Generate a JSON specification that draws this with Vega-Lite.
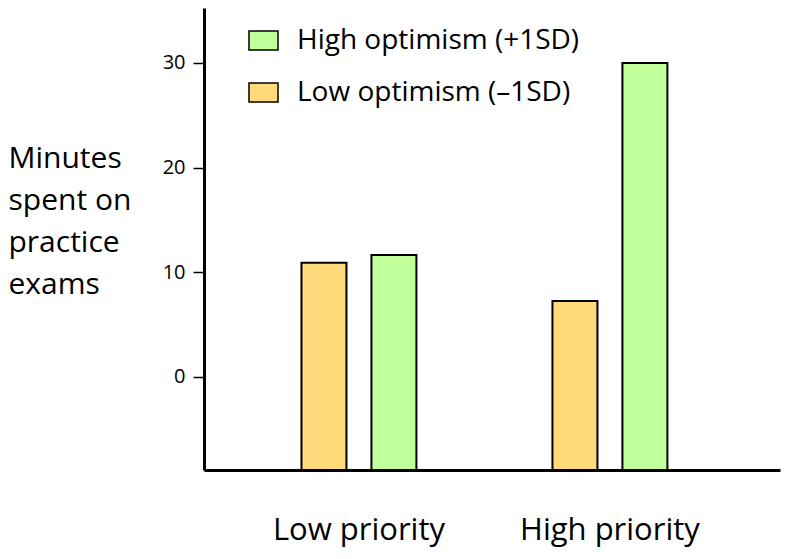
{
  "$schema": "https://vega.github.io/schema/vega-lite/v6.json",
  "width": 576,
  "height": 462,
  "autosize": {"type": "none"},
  "padding": {"left": 204, "top": 8, "right": 20, "bottom": 89},
  "background": "white",
  "config": {
    "font": "Open Sans",
    "view": {"stroke": null},
    "axis": {"grid": false, "domainColor": "black", "tickColor": "black", "labelColor": "black", "titleColor": "black"}
  },
  "data": {
    "values": [
      {"priority": "Low priority", "optimism": "Low optimism (–1SD)", "minutes": 10.9},
      {"priority": "Low priority", "optimism": "High optimism (+1SD)", "minutes": 11.65},
      {"priority": "High priority", "optimism": "Low optimism (–1SD)", "minutes": 7.26},
      {"priority": "High priority", "optimism": "High optimism (+1SD)", "minutes": 30.0}
    ]
  },
  "mark": {"type": "bar", "stroke": "black", "strokeWidth": 2, "opacity": 1},
  "encoding": {
    "x": {
      "field": "priority",
      "type": "nominal",
      "sort": ["Low priority", "High priority"],
      "scale": {"paddingInner": 0.542, "paddingOuter": 0.4185, "align": 0.464},
      "axis": {
        "title": null,
        "labelAngle": 0,
        "ticks": false,
        "domainWidth": 3,
        "labelFontSize": 31,
        "labelPadding": 45,
        "labelBaseline": "top"
      }
    },
    "xOffset": {
      "field": "optimism",
      "type": "nominal",
      "scale": {"domain": ["Low optimism (–1SD)", "High optimism (+1SD)"], "paddingInner": 0.357, "paddingOuter": 0}
    },
    "y": {
      "field": "minutes",
      "type": "quantitative",
      "scale": {"domain": [-8.89, 35.25], "nice": false, "zero": false},
      "axis": {
        "values": [0, 10, 20, 30],
        "domainWidth": 3,
        "tickSize": 11,
        "tickWidth": 1.5,
        "labelFontSize": 20,
        "labelPadding": 8,
        "title": ["Minutes", "spent on", "practice", "exams"],
        "titleAngle": 0,
        "titleAlign": "left",
        "titleBaseline": "alphabetic",
        "titleX": -196,
        "titleY": 159,
        "titleFontSize": 30,
        "titleFontWeight": "normal",
        "titleLineHeight": 42
      }
    },
    "y2": {"datum": -8.89},
    "color": {
      "field": "optimism",
      "type": "nominal",
      "scale": {"domain": ["High optimism (+1SD)", "Low optimism (–1SD)"], "range": ["#C0FF9A", "#FFD97A"]},
      "legend": {
        "title": null,
        "orient": "none",
        "legendX": 44,
        "legendY": 17,
        "padding": 0,
        "symbolType": "M-1,-0.655L1,-0.655L1,0.655L-1,0.655Z",
        "symbolSize": 841,
        "symbolStrokeColor": "black",
        "symbolStrokeWidth": 1.5,
        "symbolOpacity": 1,
        "labelFontSize": 28,
        "labelOffset": 18,
        "labelColor": "black",
        "labelLimit": 500,
        "rowPadding": 22
      }
    }
  }
}
